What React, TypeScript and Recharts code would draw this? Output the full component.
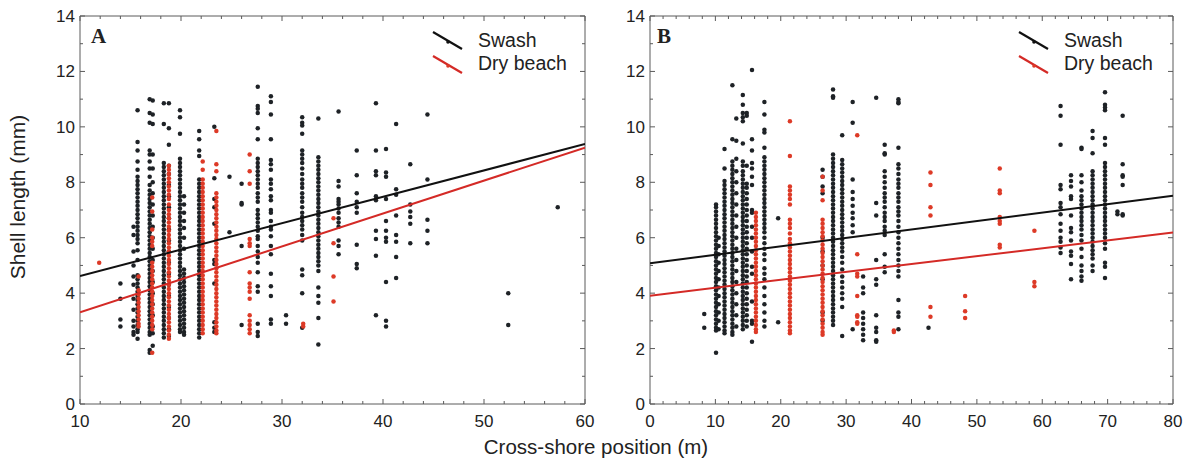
import { ScatterChart, Scatter, XAxis, YAxis, ReferenceLine } from 'recharts';

type Column = [number, number[]];

// Panel A – columns of shell lengths (mm) at each cross-shore position (m)
const swashA: Column[] = [
  [14.0, [4.35, 3.8, 3.05, 2.8]],
  [15.3, [6.4, 6.1, 5.5, 5.0, 4.6, 4.3, 3.8, 3.4, 3.0, 2.8, 2.6, 2.5]],
  [15.7, [10.6, 9.45, 9.15, 8.75, 8.45, 8.2, 8.05, 7.9, 7.75, 7.6, 7.45, 7.3, 7.15, 7.0, 6.85, 6.7, 6.55, 6.4, 6.25, 6.1, 5.95, 5.8, 5.55, 5.2, 4.65, 4.5, 4.35, 4.2, 4.05, 3.9, 3.75, 3.6, 3.45, 3.3, 3.15, 3.0, 2.85, 2.7, 2.6, 2.35]],
  [16.9, [11.0, 10.5, 10.15, 9.15, 9.0, 8.75, 8.5, 8.2, 7.9, 7.7, 7.55, 7.4, 7.25, 7.1, 6.95, 6.8, 6.65, 6.5, 6.35, 6.2, 6.05, 5.9, 5.75, 5.6, 5.45, 5.3, 5.15, 5.0, 4.85, 4.7, 4.55, 4.4, 4.25, 4.1, 3.95, 3.8, 3.65, 3.5, 3.35, 3.2, 3.05, 2.9, 2.75, 2.6, 2.5, 1.95, 1.85]],
  [17.2, [10.95, 10.45, 10.1, 9.0, 8.5, 8.0, 7.6, 7.2, 6.8, 6.4, 6.0, 5.6, 5.2, 4.8, 4.4, 4.0, 3.6, 3.2, 2.8, 2.55, 2.1]],
  [18.3, [10.85, 10.1, 8.7, 8.55, 8.4, 8.25, 8.1, 7.95, 7.8, 7.65, 7.5, 7.35, 7.2, 7.05, 6.9, 6.75, 6.6, 6.45, 6.3, 6.15, 6.0, 5.85, 5.7, 5.55, 5.4, 5.25, 5.1, 4.95, 4.8, 4.65, 4.5, 4.35, 4.2, 4.05, 3.9, 3.75, 3.6, 3.45, 3.3, 3.15, 3.0, 2.85, 2.7, 2.55, 2.4]],
  [18.8, [10.85, 9.95, 9.35, 8.6, 8.3, 7.9, 7.5, 7.1, 6.7, 6.3, 5.9, 5.5, 5.1, 4.7, 4.3, 3.9, 3.5, 3.1, 2.7, 2.45]],
  [19.9, [10.6, 10.35, 9.75, 8.85, 8.7, 8.55, 8.4, 8.25, 8.1, 7.95, 7.8, 7.65, 7.5, 7.35, 7.2, 7.05, 6.9, 6.75, 6.6, 6.45, 6.3, 6.15, 6.0, 5.85, 5.7, 5.55, 5.4, 5.25, 5.1, 4.95, 4.8, 4.65, 4.5, 4.35, 4.2, 4.05, 3.9, 3.75, 3.6, 3.45, 3.3, 3.15, 3.0, 2.85, 2.7, 2.6]],
  [20.3, [7.5, 7.2, 6.9, 6.6, 6.35, 6.0, 5.6, 4.85, 4.7, 4.55, 4.4, 4.25, 4.1, 3.95, 3.8, 3.65, 3.5, 3.35, 3.2, 3.05, 2.9, 2.75, 2.6, 2.5]],
  [21.8, [9.85, 9.55, 9.15, 8.95, 8.1, 7.95, 7.8, 7.65, 7.5, 7.35, 7.2, 7.05, 6.9, 6.75, 6.6, 6.45, 6.3, 6.15, 6.0, 5.85, 5.7, 5.55, 5.4, 5.25, 5.1, 4.95, 4.8, 4.65, 4.5, 4.35, 4.2, 4.05, 3.9, 3.75, 3.6, 3.45, 3.3, 3.15, 3.0, 2.85, 2.7, 2.55, 2.4]],
  [23.3, [10.0, 8.15, 7.4, 7.1, 6.5, 5.2, 5.05, 4.35, 2.95, 2.75, 2.6]],
  [24.8, [8.2, 6.2]],
  [26.0, [7.95, 7.25, 7.2, 5.7, 2.85]],
  [27.6, [11.45, 10.75, 10.65, 10.5, 9.95, 9.55, 8.85, 8.7, 8.55, 8.4, 8.25, 8.1, 7.95, 7.8, 7.6, 7.45, 7.3, 7.0, 6.85, 6.7, 6.55, 6.4, 6.25, 6.05, 5.95, 5.7, 5.5, 5.3, 5.1, 4.75, 4.25, 4.05, 2.9, 2.6, 2.45]],
  [28.9, [11.1, 10.9, 10.45, 9.55, 8.8, 8.65, 8.45, 8.1, 7.95, 7.75, 7.5, 7.35, 7.0, 6.9, 6.6, 6.4, 6.3, 6.05, 5.7, 5.4, 4.7, 4.25, 3.9, 3.05, 2.9]],
  [30.4, [3.2, 2.9]],
  [32.0, [10.35, 10.15, 10.05, 9.75, 9.15, 9.0, 8.85, 8.7, 8.5, 8.3, 8.1, 7.95, 7.8, 7.6, 7.45, 7.3, 7.1, 6.9, 6.75, 6.6, 6.45, 6.3, 6.1, 5.9, 4.85, 4.65, 4.0, 2.75]],
  [33.6, [10.3, 8.9, 8.75, 8.6, 8.45, 8.3, 8.15, 8.0, 7.85, 7.7, 7.55, 7.4, 7.25, 7.1, 6.95, 6.8, 6.65, 6.5, 6.35, 6.2, 6.05, 5.9, 5.75, 5.6, 5.45, 5.3, 5.15, 5.0, 4.8, 4.2, 3.9, 3.65, 3.1, 2.15]],
  [35.6, [10.55, 8.05, 7.85, 7.4, 7.3, 7.2, 7.05, 6.9, 6.7, 6.55, 6.4, 5.9, 5.7, 5.4]],
  [37.4, [9.15, 8.25, 7.6, 7.3, 7.1, 6.9, 5.75, 5.05, 4.9]],
  [39.3, [10.85, 9.15, 8.4, 8.25, 7.5, 7.35, 6.25, 5.95, 5.35, 3.2]],
  [40.3, [9.2, 8.35, 8.2, 7.4, 6.6, 6.25, 6.0, 5.85, 4.4, 3.0, 2.8]],
  [41.3, [10.1, 7.75, 7.55, 6.8, 6.1, 5.85, 5.3, 4.55]],
  [42.7, [8.65, 7.2, 6.95, 6.75, 6.5, 5.8]],
  [44.4, [10.45, 8.1, 6.65, 6.25, 5.8]],
  [52.4, [4.0, 2.85]],
  [57.3, [7.1]],
];

const dryA: Column[] = [
  [11.9, [5.1]],
  [15.8, [4.6, 4.1, 3.95, 3.8, 3.65, 3.5, 3.35, 3.2, 3.05, 2.9, 2.8]],
  [17.15, [7.45, 6.95, 6.3, 6.0, 5.85, 5.7, 5.1, 4.95, 4.8, 4.65, 4.5, 4.35, 4.2, 4.05, 3.9, 3.75, 3.6, 3.45, 3.3, 3.15, 3.0, 2.85, 2.7, 1.85]],
  [18.8, [8.6, 8.45, 8.3, 8.15, 8.0, 7.85, 7.7, 7.55, 7.4, 7.2, 7.0, 6.85, 6.7, 6.55, 6.4, 6.25, 6.1, 5.95, 5.8, 5.65, 5.5, 5.35, 5.2, 5.05, 4.9, 4.75, 4.6, 4.45, 4.3, 4.15, 4.0, 3.85, 3.7, 3.55, 3.4, 3.25, 3.1, 2.95, 2.8, 2.65, 2.5, 2.35]],
  [22.15, [8.75, 8.45, 8.1, 7.95, 7.8, 7.65, 7.5, 7.35, 7.2, 7.05, 6.9, 6.75, 6.6, 6.45, 6.3, 6.15, 6.0, 5.85, 5.7, 5.55, 5.4, 5.25, 5.1, 4.95, 4.8, 4.65, 4.5, 4.35, 4.2, 4.05, 3.9, 3.75, 3.6, 3.45, 3.3, 3.15, 3.0, 2.85, 2.7, 2.55]],
  [23.5, [9.85, 8.65, 8.4, 7.6, 7.45, 7.3, 7.15, 7.0, 6.85, 6.7, 6.55, 6.4, 6.25, 6.1, 5.95, 5.8, 5.65, 5.5, 5.35, 5.2, 5.05, 4.9, 4.75, 4.6, 4.45, 4.3, 4.15, 4.0, 3.85, 3.7, 3.55, 3.4, 3.25, 3.1, 2.95, 2.8, 2.65, 2.55]],
  [26.8, [9.0, 8.4, 7.95, 5.95, 5.8, 5.7, 4.75, 4.35, 4.2, 4.05, 3.8, 3.2, 3.0, 2.85, 2.7, 2.55]],
  [32.1, [2.9, 2.8]],
  [35.1, [6.7, 5.8, 4.6, 3.7]],
];

// Panel B
const swashB: Column[] = [
  [8.3, [3.25, 2.75]],
  [10.1, [7.2, 7.1, 6.95, 6.8, 6.65, 6.5, 6.35, 6.2, 6.05, 5.9, 5.75, 5.6, 5.45, 5.3, 5.15, 5.0, 4.85, 4.7, 4.55, 4.4, 4.25, 4.1, 3.95, 3.8, 3.65, 3.5, 3.35, 3.2, 3.05, 2.9, 2.75, 2.65, 1.85]],
  [10.5, [6.0, 5.7, 5.4, 5.1, 4.8, 4.5, 4.2, 3.9, 3.6, 3.3, 3.0, 2.7]],
  [11.4, [9.2, 8.5, 8.05, 7.9, 7.75, 7.6, 7.45, 7.3, 7.15, 7.0, 6.85, 6.7, 6.55, 6.4, 6.25, 6.1, 5.95, 5.8, 5.65, 5.5, 5.35, 5.2, 5.05, 4.9, 4.75, 4.6, 4.45, 4.3, 4.15, 4.0, 3.85, 3.7, 3.55, 3.4, 3.25, 3.1, 2.95, 2.8, 2.65, 2.55]],
  [12.6, [11.5, 9.55, 8.75, 8.6, 8.45, 8.3, 8.15, 8.0, 7.85, 7.7, 7.55, 7.4, 7.25, 7.1, 6.95, 6.8, 6.65, 6.5, 6.35, 6.2, 6.05, 5.9, 5.75, 5.6, 5.45, 5.3, 5.15, 5.0, 4.85, 4.7, 4.55, 4.4, 4.25, 4.1, 3.95, 3.8, 3.65, 3.5, 3.35, 3.2, 3.05, 2.9, 2.75, 2.6, 2.5]],
  [13.2, [10.3, 9.5, 8.85, 8.4, 8.0, 7.6, 7.2, 6.8, 6.4, 6.0, 5.6, 5.2, 4.8, 4.4, 4.0, 3.6, 3.2, 2.8]],
  [14.2, [11.15, 10.8, 10.5, 10.35, 10.2, 9.4, 8.75, 8.6, 8.4, 8.25, 8.1, 7.95, 7.8, 7.65, 7.5, 7.35, 7.2, 7.05, 6.9, 6.75, 6.6, 6.45, 6.3, 6.15, 6.0, 5.85, 5.7, 5.55, 5.4, 5.25, 5.1, 4.95, 4.8, 4.65, 4.5, 4.35, 4.2, 4.05, 3.9, 3.75, 3.6, 3.45, 3.3, 3.15, 3.0, 2.85, 2.7]],
  [14.8, [10.5, 10.4, 8.6, 7.95, 7.8, 7.6, 7.4, 7.2, 7.0, 6.8, 6.6, 6.4, 6.2, 6.0, 5.8, 5.6, 5.4, 5.2, 5.0, 4.8, 4.6, 4.4, 4.2, 4.0, 3.8, 3.6, 3.4, 3.2, 3.0, 2.8]],
  [15.6, [12.05, 9.55, 9.15, 8.7, 8.5, 8.2, 7.9, 7.0, 6.9, 6.4, 6.0, 5.5, 4.95, 4.7, 3.7, 3.0, 2.9, 2.25]],
  [17.5, [10.9, 10.45, 9.9, 9.8, 9.25, 8.9, 8.75, 8.6, 8.45, 8.3, 8.15, 8.0, 7.85, 7.7, 7.55, 7.4, 7.25, 7.1, 6.95, 6.8, 6.65, 6.5, 6.35, 6.2, 6.0, 5.8, 5.6, 5.4, 5.2, 4.9, 4.7, 4.5, 4.2, 3.9, 3.6, 3.3, 3.0, 2.8]],
  [19.6, [6.7, 2.95]],
  [26.4, [8.45, 8.2, 7.85, 7.6, 6.0, 5.5, 5.0, 4.5, 3.3, 3.0]],
  [28.0, [11.35, 11.1, 11.05, 9.0, 8.85, 8.7, 8.55, 8.4, 8.25, 8.1, 7.95, 7.8, 7.65, 7.5, 7.35, 7.2, 7.05, 6.9, 6.75, 6.6, 6.45, 6.3, 6.15, 6.0, 5.85, 5.7, 5.55, 5.4, 5.25, 5.1, 4.95, 4.8, 4.65, 4.5, 4.35, 4.2, 4.05, 3.9, 3.75, 3.6, 3.45, 3.3, 3.15, 3.0, 2.85]],
  [29.4, [9.7, 8.8, 8.65, 8.5, 8.35, 8.2, 8.05, 7.9, 7.75, 7.6, 7.45, 7.3, 7.15, 7.0, 6.85, 6.7, 6.55, 6.4, 6.25, 6.1, 5.95, 5.8, 5.65, 5.5, 5.3, 5.1, 4.85, 4.6, 4.4, 4.2, 4.0, 3.8, 3.5, 2.45]],
  [31.0, [10.9, 10.15, 8.1, 7.65, 7.4, 7.15, 6.9, 6.7, 6.45, 6.2, 2.7]],
  [32.6, [4.6, 4.2, 4.0, 3.3, 3.1, 2.9, 2.7, 2.5, 2.3]],
  [34.6, [11.05, 7.25, 6.8, 5.2, 4.5, 4.3, 3.2, 2.75, 2.6, 2.3, 2.25]],
  [35.9, [9.35, 9.05, 9.0, 8.4, 8.2, 8.0, 7.8, 7.6, 7.45, 7.3, 7.1, 6.9, 6.75, 6.6, 6.4, 6.25, 6.1, 5.4, 4.95, 4.75]],
  [38.0, [11.0, 10.9, 10.85, 9.25, 8.65, 8.5, 8.3, 8.1, 7.95, 7.8, 7.6, 7.45, 7.3, 7.1, 6.95, 6.8, 6.6, 6.4, 6.2, 6.0, 5.8, 5.6, 5.4, 5.2, 5.0, 4.8, 4.6, 3.75, 3.3, 3.15, 2.7]],
  [42.6, [2.75]],
  [62.8, [10.75, 10.4, 9.35, 7.9, 7.75, 7.25, 7.1, 6.85, 6.5, 6.25, 6.0, 5.85, 5.65, 5.45]],
  [64.4, [8.25, 8.05, 7.85, 7.5, 7.4, 6.8, 6.35, 6.2, 5.9, 5.5, 5.35, 5.05, 4.5]],
  [66.0, [9.25, 9.2, 8.25, 8.0, 7.7, 7.5, 7.35, 7.2, 7.05, 6.9, 6.75, 6.6, 6.45, 6.3, 6.1, 5.9, 5.6, 5.3, 5.0, 4.8, 4.6, 4.45]],
  [67.7, [9.85, 9.6, 9.05, 8.4, 8.25, 8.1, 7.95, 7.8, 7.65, 7.5, 7.35, 7.2, 7.05, 6.9, 6.75, 6.6, 6.45, 6.3, 6.15, 6.0, 5.85, 5.7, 5.55, 5.4, 5.25, 5.0, 4.8]],
  [69.6, [11.25, 10.8, 10.7, 10.6, 9.6, 9.35, 8.7, 8.55, 8.4, 8.25, 8.1, 7.95, 7.8, 7.65, 7.5, 7.35, 7.2, 7.05, 6.9, 6.75, 6.6, 6.45, 6.3, 6.15, 6.0, 5.8, 5.6, 5.1, 4.95, 4.55]],
  [71.5, [6.95, 6.85]],
  [72.3, [10.4, 8.65, 8.25, 8.2, 7.9, 6.85, 6.8]],
];

const dryB: Column[] = [
  [16.2, [6.9, 6.75, 6.6, 6.45, 6.3, 6.15, 6.0, 5.85, 5.7, 5.55, 5.4, 5.25, 5.1, 4.95, 4.8, 4.65, 4.5, 4.35, 4.2, 4.05, 3.9, 3.75, 3.6, 3.45, 3.3, 3.15, 3.0, 2.85, 2.7, 2.6]],
  [21.4, [10.2, 8.95, 7.85, 7.7, 7.55, 7.4, 7.2, 6.65, 6.5, 6.35, 6.15, 5.95, 5.8, 5.65, 5.5, 5.35, 5.2, 5.05, 4.9, 4.75, 4.6, 4.45, 4.3, 4.15, 4.0, 3.85, 3.7, 3.55, 3.4, 3.25, 3.1, 2.95, 2.8, 2.65, 2.55]],
  [26.4, [8.2, 7.7, 7.35, 6.65, 6.5, 6.35, 6.2, 6.05, 5.9, 5.75, 5.6, 5.45, 5.3, 5.15, 5.0, 4.85, 4.7, 4.55, 4.4, 4.25, 4.1, 3.95, 3.8, 3.65, 3.5, 3.35, 3.2, 3.05, 2.9, 2.75, 2.6, 2.5]],
  [31.7, [9.7, 5.4, 4.7, 4.6, 3.9, 3.2, 3.15, 2.95, 2.9]],
  [37.3, [2.65, 2.6]],
  [42.9, [8.35, 7.9, 7.1, 6.8, 3.5, 3.15]],
  [48.2, [3.9, 3.35, 3.1]],
  [53.5, [8.5, 7.7, 7.6, 6.75, 6.6, 6.5, 5.75, 5.65]],
  [58.8, [6.25, 4.4, 4.25]],
];

// regression line end points
const fitSwashA = [{ x: 10, y: 4.62 }, { x: 60, y: 9.38 }];
const fitDryA = [{ x: 10, y: 3.31 }, { x: 60, y: 9.25 }];
const fitSwashB = [{ x: 0, y: 5.08 }, { x: 80, y: 7.51 }];
const fitDryB = [{ x: 0, y: 3.91 }, { x: 80, y: 6.19 }];

const xTicksA = [10, 20, 30, 40, 50, 60];
const xTicksB = [0, 10, 20, 30, 40, 50, 60, 70, 80];
const yTicks = [0, 2, 4, 6, 8, 10, 12, 14];

const BLACK = '#1e2226';
const RED = '#dd3a27';
const FRAME = '#5a5a5a';
const FONT = '"Liberation Sans", Arial, sans-serif';
const PLOT_TOP = 16;

const toPoints = (cols: Column[]) => cols.flatMap(([x, ys]) => ys.map((y) => ({ x, y })));

// minor ticks between the labelled ones
const withMinor = (major: number[], step: number) => {
  const out: number[] = [];
  for (let v = major[0]; v <= major[major.length - 1] + 1e-9; v += step) out.push(Math.round(v * 100) / 100);
  return out;
};

const dot = (color: string) => (p: any) => <circle cx={p.cx} cy={p.cy} r={2.25} fill={color} />;
const noDot = () => <g />;

const XTick = ({ x, y, payload, labels }: any) => {
  const major = labels.includes(payload.value);
  const len = major ? 5 : 3;
  const base = y - 11;
  return (
    <g>
      <line x1={x} x2={x} y1={base} y2={base - len} stroke={FRAME} />
      <line x1={x} x2={x} y1={PLOT_TOP} y2={PLOT_TOP + len} stroke={FRAME} />
      {major && (
        <text x={x} y={y} dy="0.71em" textAnchor="middle" fontSize={17} fontFamily={FONT} fill="#222">
          {payload.value}
        </text>
      )}
    </g>
  );
};

const YTick = ({ x, y, payload, right }: any) => {
  const major = yTicks.includes(payload.value);
  const len = major ? 5 : 3;
  const base = x + 5;
  return (
    <g>
      <line x1={base} x2={base + len} y1={y} y2={y} stroke={FRAME} />
      <line x1={right} x2={right - len} y1={y} y2={y} stroke={FRAME} />
      {major && (
        <text x={x} y={y} dy="0.355em" textAnchor="end" fontSize={17} fontFamily={FONT} fill="#222">
          {payload.value}
        </text>
      )}
    </g>
  );
};

interface PanelProps {
  swash: Column[];
  dry: Column[];
  fitSwash: { x: number; y: number }[];
  fitDry: { x: number; y: number }[];
  xTicks: number[];
  width: number;
  margin: { top: number; right: number; bottom: number; left: number };
  yAxisWidth: number;
}

const Panel = ({ swash, dry, fitSwash, fitDry, xTicks, width, margin, yAxisWidth }: PanelProps) => {
  const xMin = xTicks[0];
  const xMax = xTicks[xTicks.length - 1];
  const right = width - margin.right;
  return (
    <ScatterChart width={width} height={440} margin={margin}>
      <XAxis
        type="number"
        dataKey="x"
        domain={[xMin, xMax]}
        ticks={withMinor(xTicks, 2)}
        interval={0}
        allowDataOverflow
        height={30}
        tickSize={0}
        tickMargin={11}
        tickLine={false}
        stroke={FRAME}
        tick={<XTick labels={xTicks} />}
      />
      <YAxis
        type="number"
        dataKey="y"
        domain={[0, 14]}
        ticks={withMinor(yTicks, 1)}
        interval={0}
        allowDataOverflow
        width={yAxisWidth}
        tickSize={0}
        tickMargin={5}
        tickLine={false}
        stroke={FRAME}
        tick={<YTick right={right} />}
      />
      <ReferenceLine y={14} stroke={FRAME} />
      <ReferenceLine x={xMax} stroke={FRAME} />
      <Scatter data={toPoints(swash)} shape={dot(BLACK)} isAnimationActive={false} />
      <Scatter data={toPoints(dry)} shape={dot(RED)} isAnimationActive={false} />
      <Scatter data={fitSwash} line={{ stroke: '#111', strokeWidth: 2 }} shape={noDot} isAnimationActive={false} />
      <Scatter data={fitDry} line={{ stroke: '#d42a26', strokeWidth: 2 }} shape={noDot} isAnimationActive={false} />
    </ScatterChart>
  );
};

const LegendKey = ({ x, y }: { x: number; y: number }) => (
  <g fontFamily={FONT} fontSize={19.5} fill="#222">
    <line x1={x} y1={y} x2={x + 29} y2={y + 17} stroke="#111" strokeWidth={2.2} />
    <circle cx={x + 15} cy={y + 10} r={1.8} fill="#111" />
    <text x={x + 45} y={y + 15}>Swash</text>
    <line x1={x} y1={y + 24} x2={x + 29} y2={y + 41} stroke="#d42a26" strokeWidth={2.2} />
    <circle cx={x + 15} cy={y + 34} r={1.8} fill={RED} />
    <text x={x + 45} y={y + 38}>Dry beach</text>
  </g>
);

export default function App() {
  return (
    <div style={{ position: 'absolute', left: 0, top: 0, width: 1196, height: 464, background: '#fff' }}>
      <div style={{ position: 'absolute', left: 0, top: 0 }}>
        <Panel
          swash={swashA}
          dry={dryA}
          fitSwash={fitSwashA}
          fitDry={fitDryA}
          xTicks={xTicksA}
          width={600}
          margin={{ top: PLOT_TOP, right: 15, bottom: 6, left: 30 }}
          yAxisWidth={50}
        />
      </div>
      <div style={{ position: 'absolute', left: 600, top: 0 }}>
        <Panel
          swash={swashB}
          dry={dryB}
          fitSwash={fitSwashB}
          fitDry={fitDryB}
          xTicks={xTicksB}
          width={596}
          margin={{ top: PLOT_TOP, right: 23, bottom: 6, left: 10 }}
          yAxisWidth={40}
        />
      </div>
      <svg width={1196} height={464} style={{ position: 'absolute', left: 0, top: 0, pointerEvents: 'none' }}>
        <text x={91} y={43} fontFamily='"Liberation Serif", "Times New Roman", serif' fontWeight="bold" fontSize={21} fill="#222">A</text>
        <text x={657} y={43} fontFamily='"Liberation Serif", "Times New Roman", serif' fontWeight="bold" fontSize={21} fill="#222">B</text>
        <LegendKey x={433} y={32} />
        <LegendKey x={1019} y={32} />
        <text
          transform="translate(25,197) rotate(-90)"
          textAnchor="middle"
          fontFamily={FONT}
          fontSize={21}
          fill="#222"
        >
          Shell length (mm)
        </text>
        <text x={596} y={454} textAnchor="middle" fontFamily={FONT} fontSize={20.5} fill="#222">
          Cross-shore position (m)
        </text>
      </svg>
    </div>
  );
}
